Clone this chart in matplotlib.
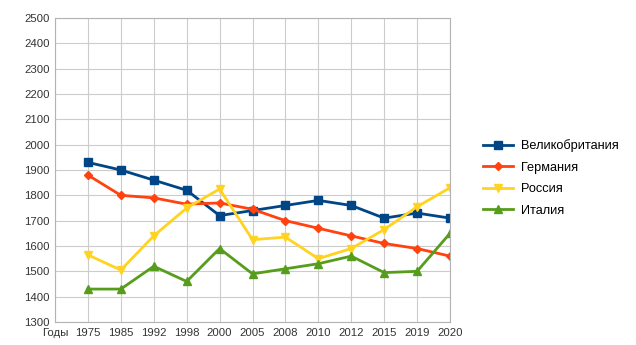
import matplotlib.pyplot as plt
import numpy as np

plt.rcParams['font.family'] = ['Liberation Sans', 'DejaVu Sans']

categories = ['Годы', '1975', '1985', '1992', '1998', '2000', '2005', '2008',
              '2010', '2012', '2015', '2019', '2020']
uk = [1930, 1900, 1860, 1820, 1720, 1740, 1760, 1780, 1760, 1710, 1730, 1710]
germany = [1880, 1800, 1790, 1765, 1770, 1745, 1700, 1670, 1640, 1610, 1590, 1560]
russia = [1565, 1505, 1640, 1750, 1825, 1625, 1635, 1550, 1590, 1665, 1755, 1830]
italy = [1430, 1430, 1520, 1460, 1590, 1490, 1510, 1530, 1560, 1495, 1500, 1650]

series = [
    ('Великобритания', uk, '#004586', 's'),
    ('Германия', germany, '#ff420e', 'D'),
    ('Россия', russia, '#ffd320', 'v'),
    ('Италия', italy, '#579d1c', '^'),
]

fig = plt.figure(figsize=(6.36, 3.45), dpi=100)
ax = fig.add_axes([55 / 636, 1 - 322 / 345, (450 - 55) / 636, (322 - 18) / 345])

x = np.arange(1, len(categories))
for name, vals, color, marker in series:
    ms = 6 if marker == 's' else 5.5
    if marker == 'D':
        ms = 4.5
    ax.plot(x, vals, color=color, marker=marker, markersize=ms, linewidth=2,
            label=name)

ax.set_xlim(0, len(categories) - 1)
ax.set_ylim(1300, 2500)
ax.set_xticks(np.arange(len(categories)))
ax.set_xticklabels(categories)
ax.set_yticks(np.arange(1300, 2501, 100))
ax.tick_params(axis='both', length=0, labelsize=8.2, colors='#333333', pad=4)
ax.grid(True, color='#cccccc', linewidth=0.8)
ax.set_axisbelow(True)
for side in ['top', 'right', 'left', 'bottom']:
    ax.spines[side].set_color('#b3b3b3')
    ax.spines[side].set_linewidth(0.8)

fig.legend(loc='center left', bbox_to_anchor=(471 / 636, 1 - 178 / 345),
           frameon=False, fontsize=9.2, handlelength=2.4, handletextpad=0.6,
           labelspacing=0.75)

fig.savefig('out.png', dpi=100)
